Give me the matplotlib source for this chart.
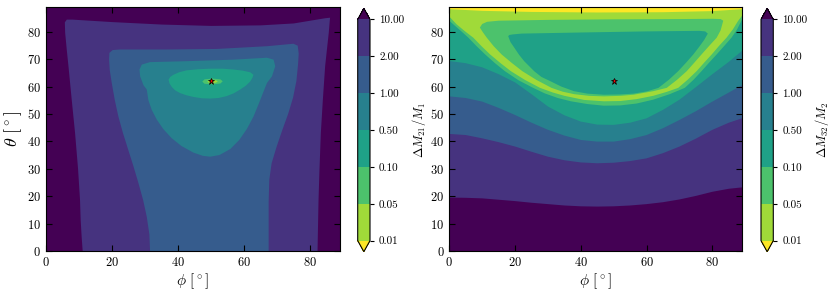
import numpy as np
import matplotlib
matplotlib.use('Agg')
import matplotlib.pyplot as plt
from matplotlib.colors import BoundaryNorm
from matplotlib.cm import ScalarMappable

plt.rcParams['font.family'] = 'serif'
plt.rcParams['font.serif'] = ['cmr10']
plt.rcParams['mathtext.fontset'] = 'cm'
plt.rcParams['axes.formatter.use_mathtext'] = True
plt.rcParams['axes.unicode_minus'] = False

# ---------------- data ----------------
levels = [0.01, 0.05, 0.1, 0.5, 1, 2, 10]
star_phi = 50.0
star_theta = 62.0

# Left panel (Delta M21 / M1): closed iso-contour regions (value below the level inside)
L10_phi = [11.1, 10.8, 10.5, 10.3, 9.7, 8.8, 7.8, 6.8, 6.3, 5.8, 5.7, 6.3, 8.0, 20, 35, 50, 65, 75, 84.5, 86.0, 85.9, 85.6, 85.0, 84.5, 83.8, 83.2, 82.8, 82.5, 82.2]
L10_theta = [0, 5, 11.2, 18.6, 30, 43, 55, 67.4, 73.2, 79.6, 83.4, 84.4, 84.4, 83.5, 82.6, 82.1, 82.3, 83.0, 84.9, 85.1, 84.0, 79.6, 73, 67.4, 55, 43, 30, 18.6, 0]

L2_phi = [31.5, 31.3, 30.5, 29.4, 28.0, 26.5, 24.9, 23.3, 21.9, 20.8, 19.9, 19.3, 19.1, 19.2, 20.2, 22.4, 36.6, 51.7, 66.9, 74.9, 76.2, 76.5, 76.3, 75.8, 74.8, 73.3, 71.5, 69.8, 68.3, 67.6, 67.4, 67.4]
L2_theta = [0, 6, 12.5, 18.6, 24.7, 30.8, 36.9, 43, 49.1, 55.2, 61.3, 66, 69.8, 72.3, 73.3, 73.5, 73.5, 73.7, 74.7, 75.6, 74.9, 72, 68, 62, 56, 50, 44, 38, 32, 26, 18, 0]

L1_phi = [28.5, 28.3, 29.0, 31.5, 41.6, 56.8, 66.9, 68.9, 69.4, 68.4, 66.9, 65.8, 64.5, 62.8, 60.8, 58.5, 55.8, 52.5, 49.7, 47.5, 44.6, 41.0, 38.0, 35.5, 33.5, 32.0, 31.0, 30.5, 29.5]
L1_theta = [63.7, 66.2, 68.0, 68.9, 69.2, 69.8, 70.5, 69.8, 67.4, 63.7, 61.3, 58.0, 54.0, 49.0, 44.5, 40.5, 37.2, 35.0, 34.4, 34.7, 35.9, 38.3, 41.2, 44.5, 48.0, 51.5, 55.0, 58.9, 60.5]

L05_phi = [37.1, 37.6, 38.6, 40.3, 42.6, 46.0, 49.7, 53.5, 56.8, 59.5, 61.8, 62.8, 62.5, 61.8, 60.5, 58.8, 56.8, 54.7, 52.2, 49.7, 47.2, 44.6, 42.5, 40.6, 39.1, 38.1, 37.4]
L05_theta = [62.5, 63.5, 64.3, 65.2, 65.9, 66.3, 66.5, 66.5, 66.2, 65.8, 65.2, 64.3, 63.2, 61.8, 60.3, 58.9, 57.5, 56.5, 55.8, 55.6, 55.7, 56.2, 56.8, 57.6, 58.6, 59.8, 61.1]

L01_phi = [47.3, 48.0, 50.4, 52.8, 53.5, 52.8, 50.4, 48.0]
L01_theta = [61.8, 62.6, 62.9, 62.6, 61.9, 61.1, 60.75, 61.0]

L005_phi = [48.8, 49.5, 50.5, 51.6, 52.0, 51.4, 50.4, 49.3]
L005_theta = [61.8, 62.3, 62.4, 62.2, 61.8, 61.4, 61.25, 61.4]

# Right panel (Delta M32 / M2): iso-contours as theta(phi)
R_phi = [0, 5, 10, 15, 20, 25, 30, 35, 40, 45, 50, 55, 60, 65, 70, 75, 80, 85, 89]
R10_theta = [19.5, 19.4, 19.2, 18.7, 18.2, 17.6, 17.1, 16.6, 16.3, 16.2, 16.3, 16.6, 17.1, 17.8, 18.8, 20.1, 21.6, 22.7, 23.2]
R2_theta = [42.7, 42.3, 41.1, 39.7, 38.1, 36.2, 34.4, 33.1, 32.3, 32.0, 32.2, 32.8, 33.8, 35.7, 38.1, 41.0, 44.2, 46.8, 48.4]
R1_theta = [56.4, 55.8, 54.5, 52.2, 49.6, 46.8, 44.2, 42.1, 40.5, 39.9, 39.9, 40.8, 42.3, 44.8, 47.8, 51.0, 54.5, 57.8, 60.5]
R05_theta = [69.3, 68.5, 67.0, 64.5, 61.5, 57.2, 52.7, 49.5, 47.2, 46.1, 46.0, 46.8, 48.4, 51.5, 55.2, 59.8, 64.5, 69.0, 73.0]

# U-shaped valley: outer 0.1 and 0.05 contours
RGout_phi = [0, 1.2, 3.5, 5.8, 8.3, 10.9, 13.8, 16.9, 21, 25.5, 29, 33, 37, 42, 47, 52, 57, 62, 67, 71.6, 74.3, 76.7, 79, 81.3, 83.6, 85.8, 87.5, 88.8, 89]
RGout_theta = [84.0, 82.7, 80.3, 77.8, 74.7, 71.7, 68.6, 65.6, 62.3, 59.5, 57.5, 55.8, 54.6, 53.6, 53.0, 53.1, 53.8, 55.2, 57.2, 59.5, 62.5, 65.6, 68.7, 71.7, 74.8, 77.8, 80.8, 83.9, 84.5]
RYout_phi = [0, 2.2, 4.7, 7.3, 9.8, 12.4, 15.5, 18.7, 23, 27.6, 31.5, 35, 41, 47, 52, 57, 62, 66, 69.6, 72.5, 75.2, 77.5, 79.8, 82, 84.3, 86.2, 87.8, 89]
RYout_theta = [85.5, 82.7, 80.2, 77.8, 74.7, 71.7, 68.6, 65.6, 62.4, 59.5, 57.8, 56.6, 55.1, 54.6, 54.7, 55.4, 56.6, 58.0, 59.5, 62.5, 65.6, 68.7, 71.7, 74.8, 77.8, 80.8, 83.9, 85.8]
# inner 0.05 contour (closed 0.05-0.1 region inside the valley)
RYin_phi = [9.3, 10.2, 11.4, 13.5, 15.9, 19, 22.2, 26.5, 31.1, 34.5, 38, 42.5, 47, 52, 56, 62, 66.1, 69.3, 72.2, 74.5, 76.7, 79, 81.3, 82.5, 83.3, 82.5, 80, 70, 50, 30, 15, 11.5, 10]
RYin_theta = [81.5, 79.8, 77.8, 74.7, 71.7, 68.6, 65.6, 62.4, 59.5, 58.1, 57.2, 56.6, 56.4, 56.6, 57.0, 58.3, 59.5, 62.5, 65.6, 68.7, 71.7, 74.8, 77.8, 80.5, 84.0, 84.6, 84.7, 84.6, 84.5, 84.3, 84.0, 83.6, 82.8]
# inner 0.1 contour (closed 0.1-0.5 region inside the valley)
RGin_phi = [17.9, 18.6, 19.8, 21.2, 22.8, 25.8, 28, 30.8, 34, 37.9, 42, 47, 52, 56, 60, 63.6, 66.8, 69.6, 72, 74.2, 76, 77.5, 78.6, 77.8, 76, 60, 40, 22, 19.3, 18.3]
RGin_theta = [78.4, 76.2, 74.1, 71.6, 69.2, 65.6, 63.5, 61.9, 60.0, 58.3, 57.4, 57.0, 57.1, 57.4, 58.2, 59.5, 62.5, 65.6, 68.7, 71.7, 74.5, 77.0, 79.3, 80.1, 80.3, 80.1, 79.7, 79.3, 79.0, 78.8]
# 0.01 contour at the top edge
RY01_phi = [0, 10, 25, 45, 65, 80, 89]
RY01_theta = [88.2, 87.6, 87.2, 87.0, 87.1, 87.5, 88.2]

# representative values of each band
band_vals = {'gt10': 20, 'b2_10': 5, 'b1_2': 1.5, 'b05_1': 0.7, 'b01_05': 0.3,
             'b005_01': 0.07, 'b001_005': 0.03, 'lt001': 0.005}

# ---------------- plotting ----------------
cmap = plt.get_cmap('viridis_r')
norm = BoundaryNorm(levels, ncolors=cmap.N, extend='both')
col = {k: cmap(norm(v)) for k, v in band_vals.items()}

fig = plt.figure(figsize=(8.3, 2.97), dpi=100)
axL = fig.add_axes([46 / 830, 46 / 297, 294 / 830, 244 / 297])
axR = fig.add_axes([449.3 / 830, 46 / 297, 292.7 / 830, 244 / 297])
caxL = fig.add_axes([357.7 / 830, 45.3 / 297, 12.3 / 830, 243.4 / 297])
caxR = fig.add_axes([761 / 830, 45.3 / 297, 12.3 / 830, 243.4 / 297])

XMAX, YMAX = 89, 89

# left panel
axL.set_facecolor(col['gt10'])
axL.fill(L10_phi, L10_theta, color=col['b2_10'], lw=0)
axL.fill(L2_phi, L2_theta, color=col['b1_2'], lw=0)
axL.fill(L1_phi, L1_theta, color=col['b05_1'], lw=0)
axL.fill(L05_phi, L05_theta, color=col['b01_05'], lw=0)
axL.fill(L01_phi, L01_theta, color=col['b005_01'], lw=0)
axL.fill(L005_phi, L005_theta, color=col['b001_005'], lw=0)

# right panel
axR.set_facecolor(col['gt10'])
def above(ax, xs, ys, c):
    ax.fill(list(xs) + [XMAX, 0], list(ys) + [YMAX, YMAX], color=c, lw=0)

above(axR, R_phi, R10_theta, col['b2_10'])
above(axR, R_phi, R2_theta, col['b1_2'])
above(axR, R_phi, R1_theta, col['b05_1'])
above(axR, R_phi, R05_theta, col['b01_05'])
above(axR, RGout_phi, RGout_theta, col['b005_01'])
above(axR, RYout_phi, RYout_theta, col['b001_005'])
axR.fill(RYin_phi, RYin_theta, color=col['b005_01'], lw=0)
axR.fill(RGin_phi, RGin_theta, color=col['b01_05'], lw=0)
above(axR, RY01_phi, RY01_theta, col['lt001'])

for ax in (axL, axR):
    ax.plot([star_phi], [star_theta], marker='*', color='red', mec='black',
            mew=0.5, ms=5, ls='none')
    ax.set_xlim(0, XMAX)
    ax.set_ylim(0, YMAX)
    ax.set_xticks([0, 20, 40, 60, 80])
    ax.set_yticks([0, 10, 20, 30, 40, 50, 60, 70, 80])
    ax.tick_params(direction='in', top=True, right=True, length=4,
                   width=0.8, labelsize=9)
    ax.set_xlabel(r'$\phi\ [^\circ]$', fontsize=11, labelpad=2)
axL.set_ylabel(r'$\theta\ [^\circ]$', fontsize=13, labelpad=2)

for cax, lab in ((caxL, r'$\Delta M_{21}/M_1$'), (caxR, r'$\Delta M_{32}/M_2$')):
    sm = ScalarMappable(norm=norm, cmap=cmap)
    cb = fig.colorbar(sm, cax=cax, extend='both', ticks=levels, format='%.2f')
    cb.ax.tick_params(labelsize=8, length=3, width=0.8)
    cb.set_label(lab, fontsize=9)
    cb.outline.set_linewidth(0.8)

fig.savefig('out.png', dpi=100)
